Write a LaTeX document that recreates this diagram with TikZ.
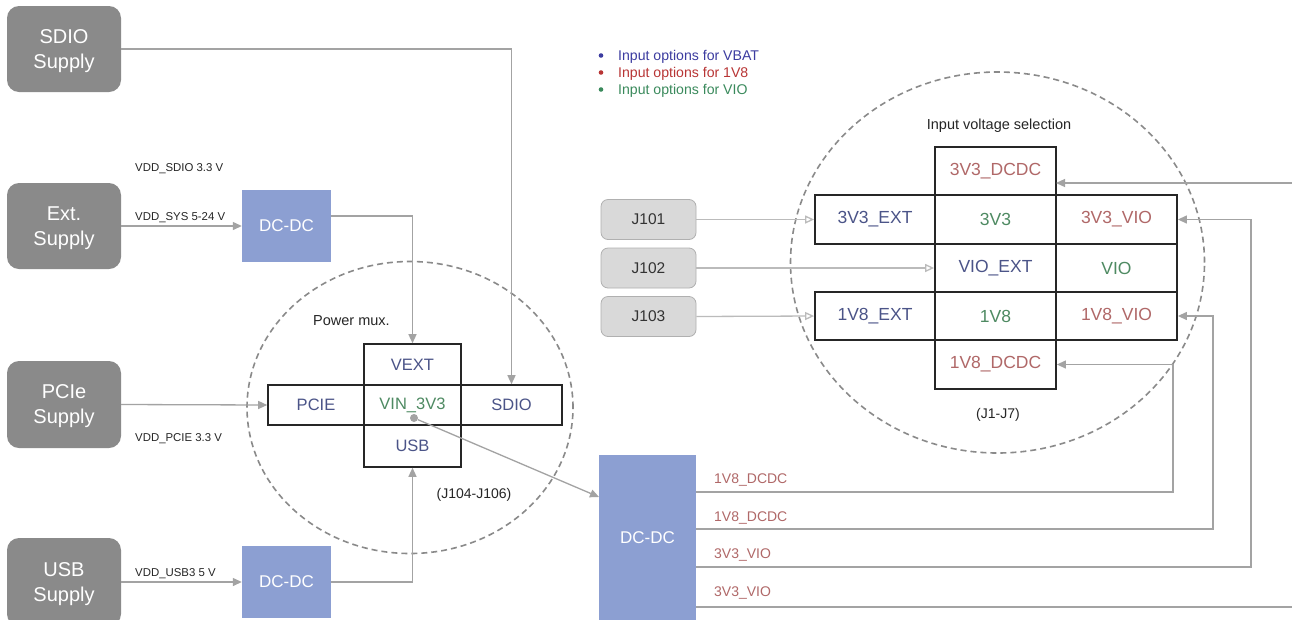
\documentclass[tikz,border=0pt]{standalone}
\usepackage{fontspec}
\setmainfont{Liberation Sans}
\usetikzlibrary{arrows.meta,shapes.geometric}
\definecolor{supgray}{HTML}{8A8A8A}
\definecolor{dcblue}{HTML}{8C9FD2}
\definecolor{jgray}{HTML}{D9D9D9}
\definecolor{jborder}{HTML}{B0B0B0}
\definecolor{wire}{HTML}{A3A3A3}
\definecolor{owire}{HTML}{BBBBBB}
\definecolor{tblue}{HTML}{4B5488}
\definecolor{tgreen}{HTML}{4E8A62}
\definecolor{tred}{HTML}{B06868}
\definecolor{lblue}{HTML}{3C3CA0}
\definecolor{lred}{HTML}{B83535}
\definecolor{lgreen}{HTML}{3A8A5C}
\definecolor{circ}{HTML}{8A8A8A}
\definecolor{cellline}{HTML}{262626}
\tikzset{
  supply/.style={rounded corners=12pt, fill=supgray, text=white, minimum width=114pt, minimum height=86pt, inner sep=0pt, text depth=0pt, align=center, font=\fontsize{20}{25}\selectfont},
  dcbox/.style={fill=dcblue, text=white, minimum width=89pt, minimum height=72pt, inner sep=0pt, font=\fontsize{17}{20}\selectfont},
  jbox/.style={rounded corners=7pt, fill=jgray, draw=jborder, line width=0.8pt, minimum width=95pt, minimum height=40pt, inner sep=0pt, text=black!80, font=\fontsize{15.5}{18}\selectfont},
  cell/.style={draw=cellline, line width=1.8pt, inner sep=0pt, font=\fontsize{17.5}{20}\selectfont},
  xcell/.style={draw=cellline, line width=1.6pt, inner sep=0pt, font=\fontsize{16.5}{20}\selectfont},
  lab/.style={anchor=west, inner sep=0pt, text=black!85, font=\fontsize{11.4}{13}\selectfont},
  olab/.style={anchor=west, inner sep=0pt, text=tred, font=\fontsize{14}{16}\selectfont},
  ttl/.style={inner sep=0pt, text=black!85, font=\fontsize{14.5}{17}\selectfont},
  leg/.style={anchor=west, inner sep=0pt, font=\fontsize{14.1}{16}\selectfont},
  arr/.style={draw=wire, line width=1.3pt, -{Triangle[length=9pt,width=8pt]}},
  oarr/.style={draw=owire, line width=1.3pt, -{Triangle[open,length=9pt,width=8pt,fill=white]}},
  wline/.style={draw=wire, line width=1.3pt},
  dashring/.style={draw=circ, line width=1.6pt, dash pattern=on 6pt off 4pt},
}
\begin{document}
\begin{tikzpicture}[x=1pt,y=-1pt]
\useasboundingbox[fill=white] (0,0) rectangle (1292,619);

% dashed selection rings
\draw[dashring] (410,407.5) ellipse [x radius=163pt, y radius=146pt];
\draw[dashring] (997.5,262.5) ellipse [x radius=207pt, y radius=190.5pt];

% supplies
\node[supply] (sdio) at (64,49) {SDIO\\Supply};
\node[supply] (ext) at (64,226) {Ext.\\Supply};
\node[supply, minimum height=87pt] (pcie) at (64,404.5) {PCIe\\Supply};
\node[supply, minimum height=88pt] (usb) at (64,582) {USB\\Supply};

% DC-DC converters
\node[dcbox] (dc1) at (286.5,226) {DC-DC};
\node[dcbox] (dc2) at (286.5,582) {DC-DC};
\node[dcbox, minimum width=97pt, minimum height=166pt] (dc3) at (647.5,538) {DC-DC};

% supply labels
\node[lab] (l1) at (135,169) {VDD\_SDIO 3.3 V};
\node[lab] (l2) at (135,218) {VDD\_SYS 5-24 V};
\node[lab] (l3) at (135,439) {VDD\_PCIE 3.3 V};
\node[lab] (l4) at (135,574) {VDD\_USB3 5 V};

% power mux cross
\node[xcell, minimum width=97pt, minimum height=41pt, text=tblue] (vext) at (412.5,364.5) {VEXT};
\node[xcell, minimum width=96pt, minimum height=40pt, text=tblue] (pcieb) at (316,405) {PCIE};
\node[xcell, minimum width=101pt, minimum height=40pt, text=tblue] (sdiob) at (511.5,405) {SDIO};
\node[xcell, minimum width=97pt, minimum height=42pt, text=tblue] (usbb) at (412.5,446) {USB};
\node[xcell, minimum width=97pt, minimum height=40pt, text=tgreen] (vin) at (412.5,405) {VIN\_3V3};
\node[ttl] (pmux) at (351.5,321) {Power mux.};
\node[ttl, font=\fontsize{14}{17}\selectfont] (pmuxj) at (474,495) {(J104-J106)};

% left wiring
\draw[arr] (sdio.east) -| (sdiob.north);
\draw[arr] (ext.east) -- (dc1.west);
\coordinate (d1o) at (331,216);
\draw[arr] (d1o) -| (vext.north);
\draw[arr] (pcie.east) -- (pcieb.west);
\draw[arr] (usb.east) -- (dc2.west);
\draw[arr] (dc2.east) -| (usbb.south);
\node[circle, fill=wire, inner sep=0pt, minimum size=8pt] (vdot) at (414,418) {};
\coordinate (dc3in) at (599,497);
\draw[arr] (vdot) -- (dc3in);

% legend
\fill[lblue] (601,55.5) circle (2.3pt);
\fill[lred] (601,72.5) circle (2.3pt);
\fill[lgreen] (601,89.5) circle (2.3pt);
\node[leg, text=lblue] (lg1) at (618,57) {Input options for VBAT};
\node[leg, text=lred] (lg2) at (618,74) {Input options for 1V8};
\node[leg, text=lgreen] (lg3) at (618,91) {Input options for VIO};

% input voltage selection grid
\node[cell, minimum width=121pt, minimum height=48pt, text=tred] (c33dcdc) at (995.5,171) {3V3\_DCDC};
\node[cell, minimum width=120pt, minimum height=49pt, text=tblue] (c33ext) at (875,219.5) {3V3\_EXT};
\node[cell, minimum width=121pt, minimum height=49pt, text=tgreen] (c33) at (995.5,219.5) {3V3};
\node[cell, minimum width=121pt, minimum height=49pt, text=tred] (c33vio) at (1116.5,219.5) {3V3\_VIO};
\node[cell, minimum width=121pt, minimum height=48pt, text=tblue] (cvioext) at (995.5,268) {VIO\_EXT};
\node[cell, minimum width=121pt, minimum height=48pt, text=tgreen] (cvio) at (1116.5,268) {VIO};
\node[cell, minimum width=120pt, minimum height=48pt, text=tblue] (c18ext) at (875,316) {1V8\_EXT};
\node[cell, minimum width=121pt, minimum height=48pt, text=tgreen] (c18) at (995.5,316) {1V8};
\node[cell, minimum width=121pt, minimum height=48pt, text=tred] (c18vio) at (1116.5,316) {1V8\_VIO};
\node[cell, minimum width=121pt, minimum height=49pt, text=tred] (c18dcdc) at (995.5,364.5) {1V8\_DCDC};
\node[ttl] (ivs) at (999,125.5) {Input voltage selection};
\node[ttl, font=\fontsize{14}{17}\selectfont] (ivsj) at (998,415) {(J1-J7)};

% J headers
\node[jbox] (j101) at (648.5,219.5) {J101};
\node[jbox] (j102) at (648.5,268) {J102};
\node[jbox] (j103) at (648.5,316.5) {J103};
\draw[oarr] (j101.east) -- (c33ext.west);
\draw[oarr] (j102.east) -- (cvioext.west);
\draw[oarr] (j103.east) -- (c18ext.west);

% DC-DC outputs
\coordinate (o1) at (696,492);
\coordinate (o2) at (696,529);
\coordinate (o3) at (696,567);
\coordinate (o4) at (696,607);
\coordinate (b1) at (1173,364.5);
\coordinate (b2) at (1213,316);
\coordinate (b3) at (1251,219.5);
\coordinate (e4) at (1292,607);
\coordinate (e0) at (1292,183);
\coordinate (t0) at (1056,183);
\draw[arr] (o1) -| (b1) -- (c18dcdc.east);
\draw[arr] (o2) -| (b2) -- (c18vio.east);
\draw[arr] (o3) -| (b3) -- (c33vio.east);
\draw[wline] (o4) -- (e4);
\draw[arr] (e0) -- (t0);
\node[olab] (ol1) at (714,480) {1V8\_DCDC};
\node[olab] (ol2) at (714,518) {1V8\_DCDC};
\node[olab] (ol3) at (714,555) {3V3\_VIO};
\node[olab] (ol4) at (714,593) {3V3\_VIO};
\end{tikzpicture}
\end{document}
